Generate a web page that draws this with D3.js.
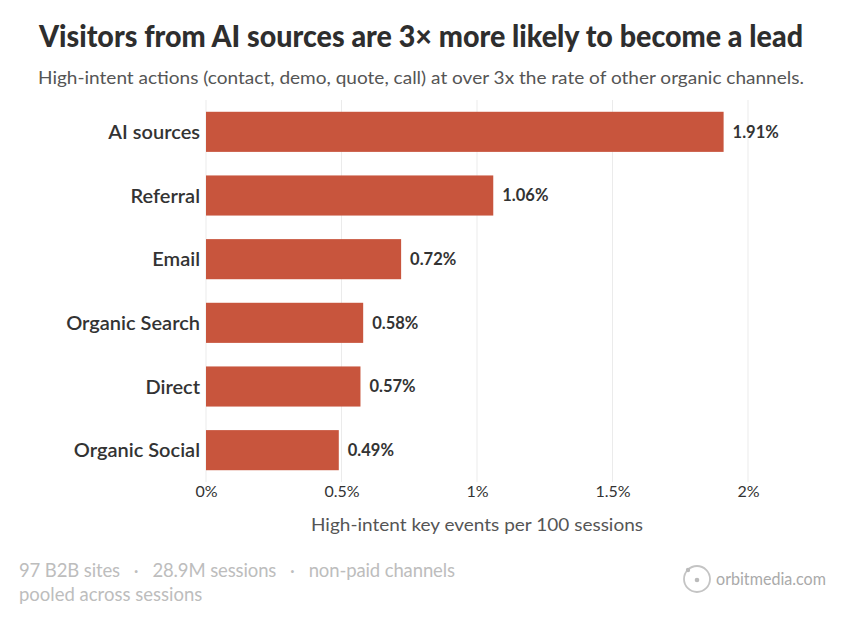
<!DOCTYPE html>
<html><head><meta charset="utf-8">
<script src="https://cdn.jsdelivr.net/npm/d3@7"></script>
<style>body{margin:0;background:#fff}svg{display:block}</style>
</head><body>
<script>
const categories = ["AI sources","Referral","Email","Organic Search","Direct","Organic Social"];
const values = [1.91,1.06,0.72,0.58,0.57,0.49];
const tickValues = [0,0.5,1,1.5,2];
const tickLabels = ["0%","0.5%","1%","1.5%","2%"];

const W=852,H=623;
const svg=d3.select("body").append("svg").attr("width",W).attr("height",H);
const font="Lato, 'Open Sans', sans-serif";
const x=d3.scaleLinear().domain([0,2]).range([206,748]);
const y=d3.scaleBand().domain(categories).range([100,482]).paddingInner(0.37).paddingOuter(0.185);

svg.append("text").attr("x",421).attr("y",47).attr("text-anchor","middle")
  .attr("font-family",font).attr("font-weight",900).attr("font-size",30).attr("fill","#2e2e2e")
  .attr("textLength",764).attr("lengthAdjust","spacingAndGlyphs")
  .text("Visitors from AI sources are 3× more likely to become a lead");
svg.append("text").attr("x",421).attr("y",84).attr("text-anchor","middle")
  .attr("font-family",font).attr("font-size",16.5).attr("fill","#555")
  .attr("textLength",766).attr("lengthAdjust","spacingAndGlyphs")
  .text("High-intent actions (contact, demo, quote, call) at over 3x the rate of other organic channels.");

svg.append("g").selectAll("line").data(tickValues).join("line")
  .attr("x1",d=>x(d)).attr("x2",d=>x(d)).attr("y1",100).attr("y2",482)
  .attr("stroke","#ebebeb").attr("stroke-width",1);

svg.append("g").selectAll("rect").data(values).join("rect")
  .attr("x",x(0)).attr("y",(d,i)=>y(categories[i])).attr("height",y.bandwidth())
  .attr("width",d=>x(d)-x(0)).attr("fill","#c8553d");

svg.append("g").selectAll("text").data(values).join("text")
  .attr("x",d=>x(d)+9).attr("y",(d,i)=>y(categories[i])+y.bandwidth()/2).attr("dy","0.35em")
  .attr("font-family",font).attr("font-weight",700).attr("font-size",16.5).attr("fill","#333")
  .text(d=>d.toFixed(2)+"%");

svg.append("g").selectAll("text").data(categories).join("text")
  .attr("x",200).attr("y",d=>y(d)+y.bandwidth()/2).attr("dy","0.35em").attr("text-anchor","end")
  .attr("font-family",font).attr("font-weight",600).attr("font-size",20).attr("fill","#333")
  .text(d=>d);

const ax=svg.append("g").attr("transform","translate(0,482)")
  .call(d3.axisBottom(x).tickValues(tickValues).tickFormat((d,i)=>tickLabels[i]).tickSize(0).tickPadding(4));
ax.select(".domain").remove();
ax.selectAll("text").attr("font-family",font).attr("font-size",16).attr("fill","#333");

svg.append("text").attr("x",477).attr("y",531).attr("text-anchor","middle")
  .attr("font-family",font).attr("font-size",18).attr("fill","#555")
  .attr("textLength",332).attr("lengthAdjust","spacingAndGlyphs")
  .text("High-intent key events per 100 sessions");

const foot=svg.append("text").attr("font-family",font).attr("font-size",18.5).attr("fill","#bdbdbd")
  .attr("xml:space","preserve").style("white-space","pre");
foot.append("tspan").attr("x",19).attr("y",577).attr("textLength",436).attr("lengthAdjust","spacing")
  .text("97 B2B sites   ·   28.9M sessions   ·   non-paid channels");
foot.append("tspan").attr("x",19).attr("y",601).text("pooled across sessions");

const logo=svg.append("g");
logo.append("circle").attr("cx",697).attr("cy",579).attr("r",13).attr("fill","none").attr("stroke","#c4c4c4").attr("stroke-width",1.8);
logo.append("circle").attr("cx",697).attr("cy",580).attr("r",2.3).attr("fill","#bbb");
logo.append("circle").attr("cx",688).attr("cy",570).attr("r",2.2).attr("fill","#bbb");
logo.append("text").attr("x",716).attr("y",585).attr("font-family",font).attr("font-size",17.5).attr("fill","#aaa")
  .attr("textLength",110).attr("lengthAdjust","spacingAndGlyphs").text("orbitmedia.com");
</script>
</body></html>
